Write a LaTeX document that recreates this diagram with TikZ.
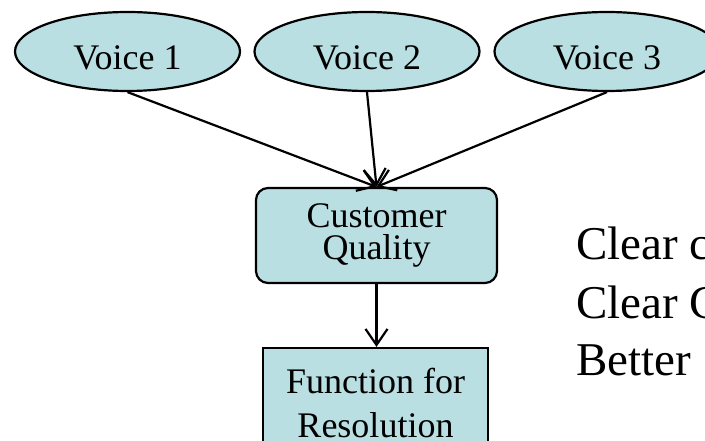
\documentclass[tikz,border=0pt]{standalone}
\usepackage{fontspec}
\setmainfont{Liberation Serif}
\usetikzlibrary{shapes.geometric,arrows.meta}
\definecolor{boxfill}{RGB}{185,223,227}
\tikzset{
  voice/.style={ellipse,draw=black,line width=2.2pt,fill=boxfill,minimum width=225pt,minimum height=79pt,inner sep=0pt,text height=37pt,text depth=0pt,font=\fontsize{36}{40}\selectfont},
  rbox/.style={rectangle,rounded corners=12pt,draw=black,line width=2.2pt,fill=boxfill,inner sep=0pt},
  sbox/.style={rectangle,draw=black,line width=2.2pt,fill=boxfill,inner sep=0pt},
  txt/.style={inner sep=0pt,anchor=base,font=\fontsize{36}{40}\selectfont},
  big/.style={inner sep=0pt,anchor=base west,font=\fontsize{47}{56}\selectfont},
  conn/.style={line width=2.2pt,-{Straight Barb[length=16pt,width=22pt,line width=2.2pt]}}
}
\begin{document}
\begin{tikzpicture}[x=1pt,y=1pt]
\useasboundingbox (0,0) rectangle (705,-441);
\clip (0,0) rectangle (705,-441);
\fill[white] (0,0) rectangle (705,-441);
\node[voice] (v1) at (127.5,-51.5) {Voice 1};
\node[voice] (v2) at (367,-51.5) {Voice 2};
\node[voice] (v3) at (607,-51.5) {Voice 3};
\node[rbox,minimum width=241pt,minimum height=95pt] (cq) at (376.5,-235.5) {};
\node[txt] (cq1) at (376.5,-228) {Customer};
\node[txt] (cq2) at (376.5,-260) {Quality};
\node[sbox,minimum width=225pt,minimum height=130pt] (fr) at (375.5,-413) {};
\node[txt] (fr1) at (375.5,-393) {Function for};
\node[txt] (fr2) at (375.5,-437) {Resolution};
\node[big] (t1) at (576,-260) {Clear c};
\node[big] (t2) at (576,-318) {Clear C};
\node[big] (t3) at (576,-375) {Better};
\draw[conn] (v1.south) -- (cq.north);
\draw[conn] (v2.south) -- (cq.north);
\draw[conn] (v3.south) -- (cq.north);
\draw[conn] (cq.south) -- (cq.south |- fr.north);
\end{tikzpicture}
\end{document}
